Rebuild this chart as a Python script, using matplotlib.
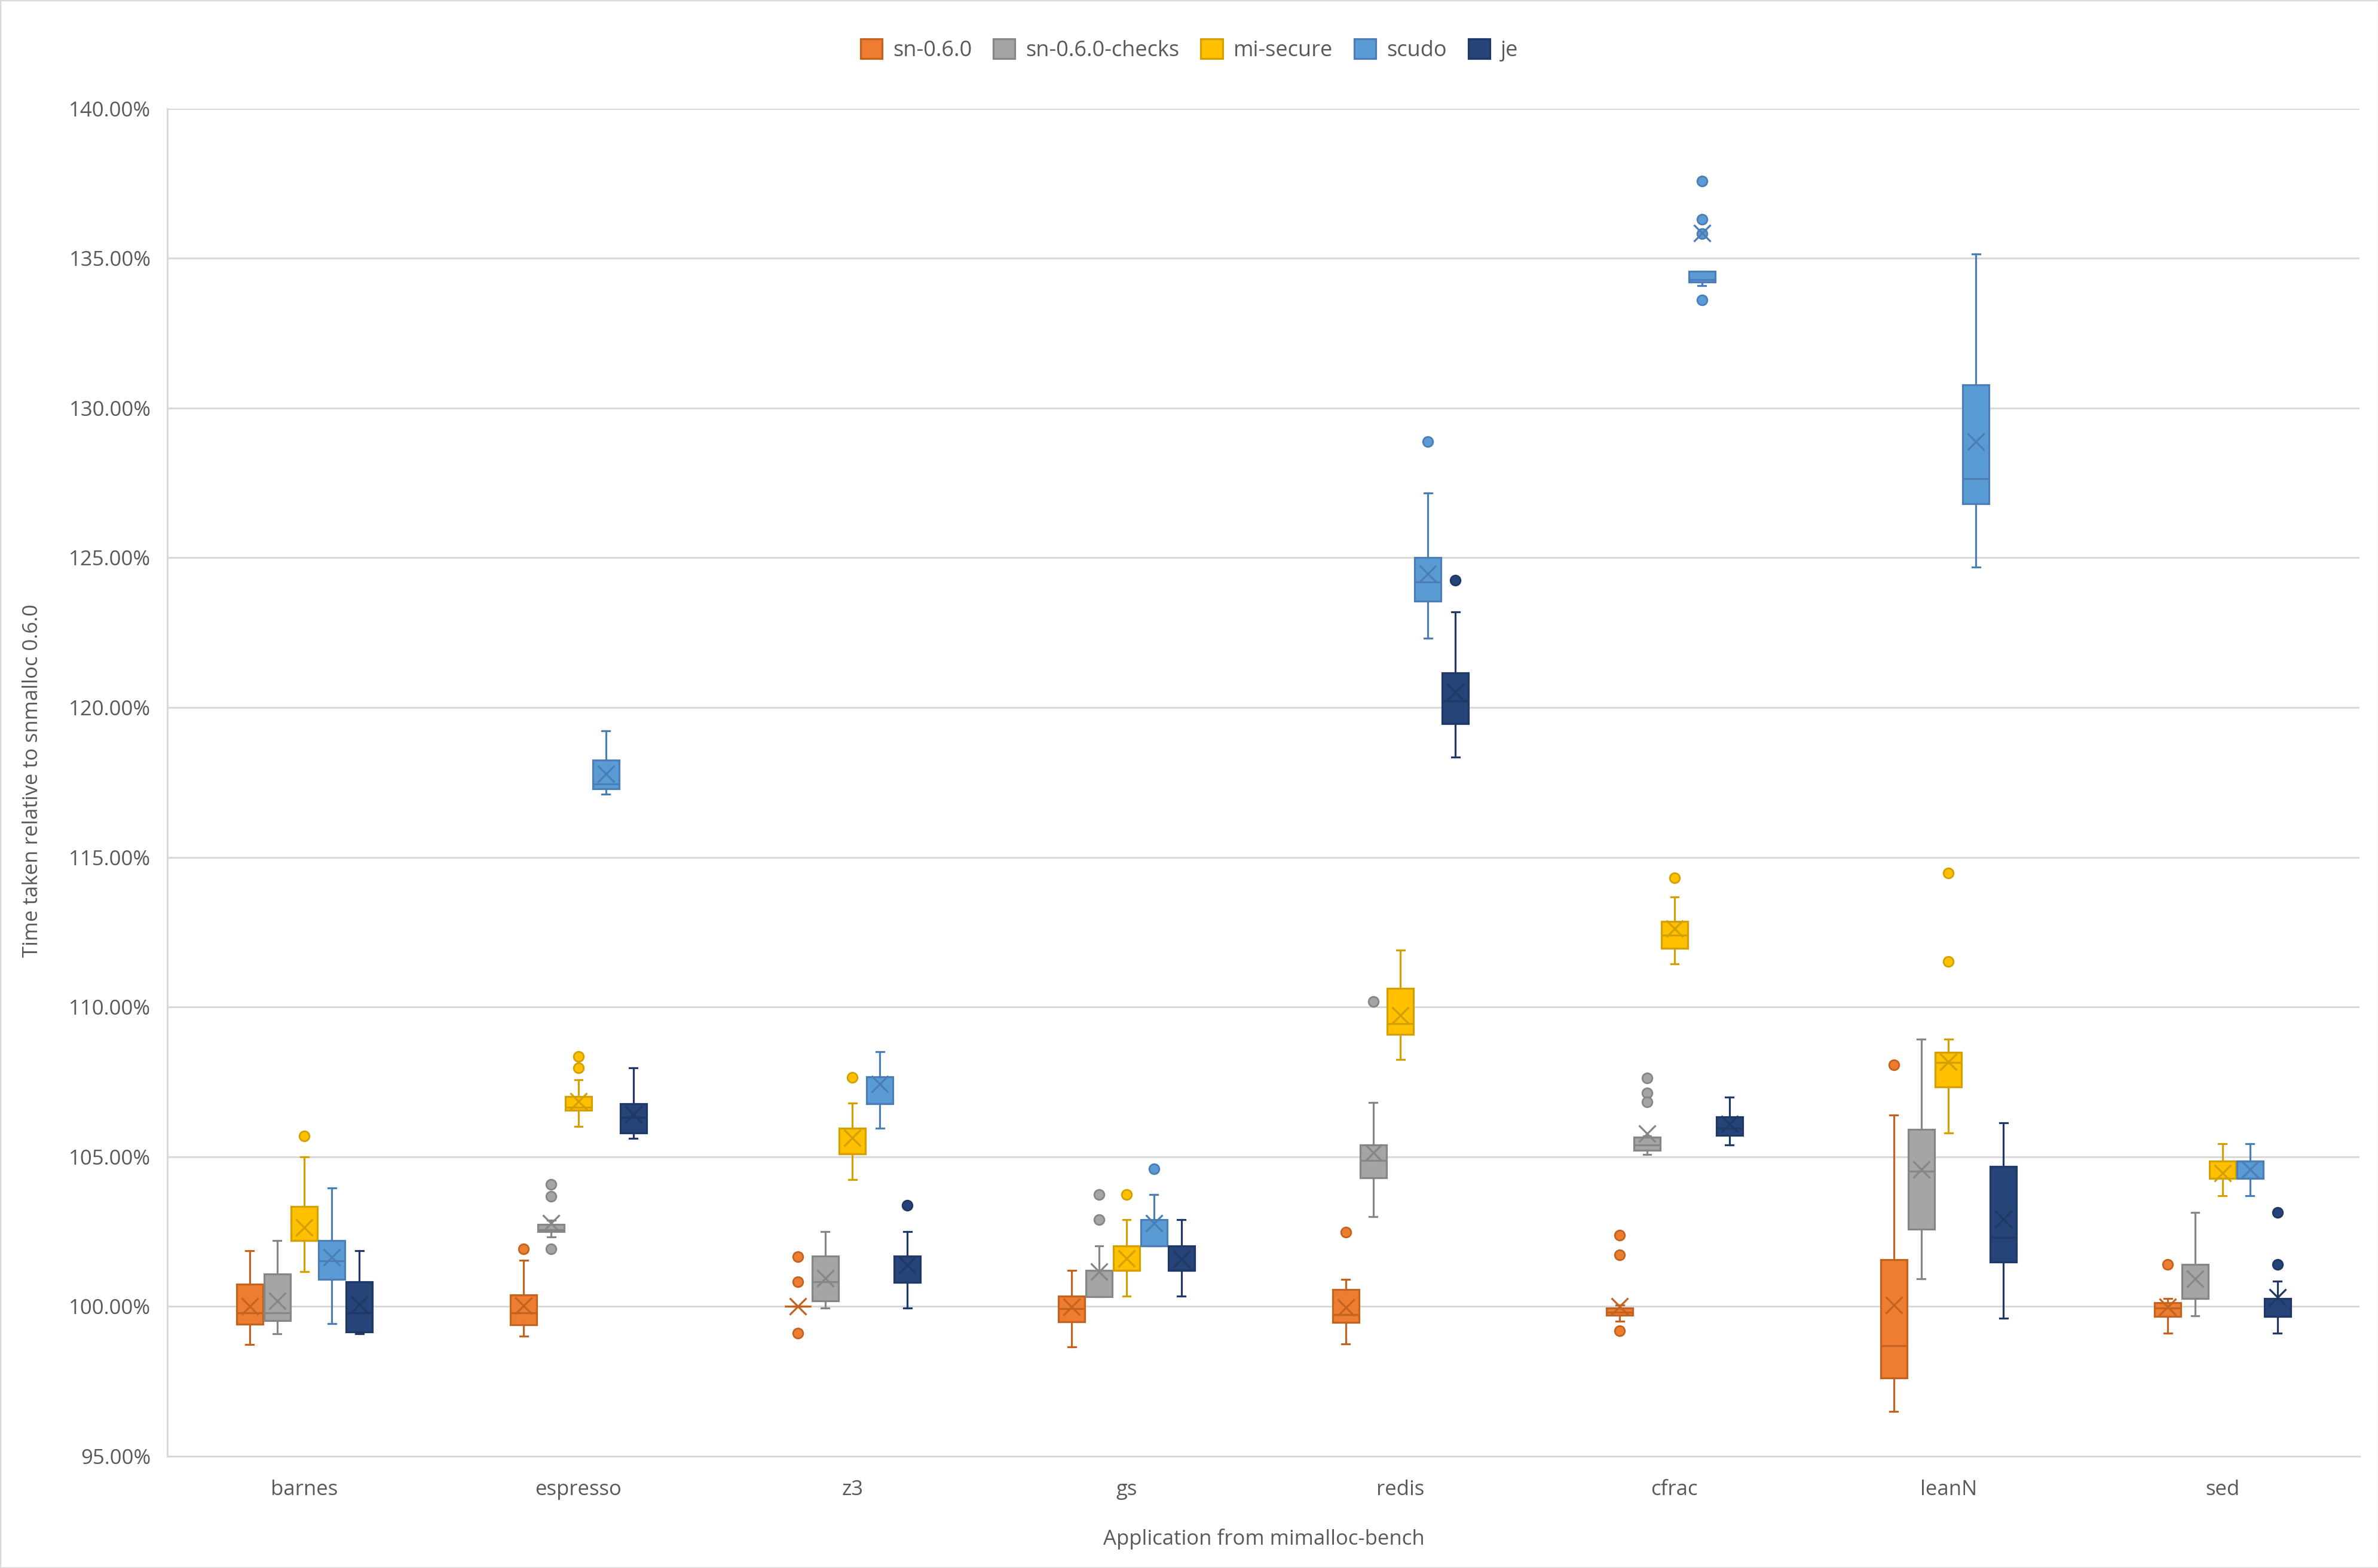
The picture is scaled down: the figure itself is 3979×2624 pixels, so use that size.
import matplotlib
matplotlib.use('Agg')
import matplotlib.pyplot as plt
from matplotlib.patches import Patch, Rectangle
from matplotlib.ticker import FuncFormatter

plt.rcParams['font.family'] = ['Open Sans', 'DejaVu Sans']

# benchmarks (x axis)
apps = ['barnes', 'espresso', 'z3', 'gs', 'redis', 'cfrac', 'leanN', 'sed']
series = ['sn-0.6.0', 'sn-0.6.0-checks', 'mi-secure', 'scudo', 'je']

# per app: (whisker low, q1, median, q3, whisker high, mean) in %
sn060 = [(98.72, 99.41, 99.78, 100.74, 101.86, 100.00),
         (99.00, 99.38, 99.79, 100.39, 101.54, 100.03),
         (100.00, 100.00, 100.00, 100.00, 100.00, 100.00),
         (98.64, 99.49, 99.93, 100.34, 101.20, 99.98),
         (98.74, 99.47, 99.73, 100.57, 100.90, 99.96),
         (99.50, 99.70, 99.80, 99.95, 100.05, 100.00),
         (96.49, 97.62, 98.68, 101.57, 106.40, 100.04),
         (99.11, 99.67, 99.95, 100.13, 100.26, 99.99)]
sn060_out = [[], [101.93], [101.67, 100.82, 99.10], [], [102.48],
             [102.39, 101.73, 99.18], [108.07], [101.41]]

checks = [(99.08, 99.53, 99.78, 101.08, 102.21, 100.19),
          (102.33, 102.50, 102.57, 102.73, 102.88, 102.78),
          (99.95, 100.18, 100.83, 101.69, 102.51, 100.94),
          (100.33, 100.33, 101.20, 101.20, 102.03, 101.16),
          (103.00, 104.30, 104.87, 105.39, 106.82, 105.14),
          (105.07, 105.22, 105.40, 105.65, 105.70, 105.78),
          (100.92, 102.59, 104.52, 105.91, 108.92, 104.57),
          (99.69, 100.26, 100.26, 101.41, 103.13, 100.92)]
checks_out = [[], [104.07, 103.68, 101.93], [], [103.74, 102.89], [110.18],
              [107.62, 107.13, 106.83], [], []]

misecure = [(101.16, 102.21, 102.21, 103.34, 104.99, 102.64),
            (106.02, 106.56, 106.65, 107.00, 107.56, 106.86),
            (104.23, 105.10, 105.10, 105.95, 106.79, 105.63),
            (100.34, 101.20, 101.20, 102.03, 102.89, 101.61),
            (108.25, 109.09, 109.45, 110.62, 111.90, 109.72),
            (111.44, 111.95, 112.40, 112.86, 113.68, 112.61),
            (105.79, 107.32, 108.15, 108.48, 108.92, 108.17),
            (103.70, 104.28, 104.28, 104.86, 105.44, 104.46)]
misecure_out = [[105.69], [108.34, 107.96], [107.64], [103.74], [],
                [114.31], [114.48, 111.51], []]

scudo = [(99.42, 100.90, 101.52, 102.21, 103.95, 101.64),
         (117.10, 117.28, 117.44, 118.24, 119.23, 117.78),
         (105.95, 106.78, 106.78, 107.66, 108.51, 107.43),
         (102.03, 102.03, 102.03, 102.89, 103.74, 102.78),
         (122.32, 123.55, 124.19, 125.00, 127.17, 124.46),
         (134.08, 134.20, 134.28, 134.56, 134.56, 135.85),
         (124.68, 126.80, 127.64, 130.78, 135.14, 128.87),
         (103.70, 104.28, 104.28, 104.86, 105.44, 104.58)]
scudo_out = [[], [], [], [104.59], [128.87],
             [137.57, 136.30, 135.82, 133.60], [], []]

je = [(99.08, 99.15, 99.78, 100.82, 101.86, 100.06),
      (105.62, 105.79, 106.31, 106.77, 107.96, 106.42),
      (99.95, 100.81, 100.81, 101.69, 102.51, 101.39),
      (100.34, 101.20, 101.20, 102.03, 102.89, 101.59),
      (118.35, 119.46, 120.22, 121.16, 123.20, 120.51),
      (105.40, 105.71, 105.95, 106.34, 106.98, 106.09),
      (99.60, 101.48, 102.31, 104.68, 106.14, 102.92),
      (99.11, 99.67, 99.67, 100.27, 100.84, 100.31)]
je_out = [[], [], [103.37], [], [124.25], [], [], [103.13, 101.41]]

fills = ['#ED7D31', '#A5A5A5', '#FFC000', '#5B9BD5', '#264478']
edges = ['#C4621F', '#868686', '#D4A000', '#4A7EB5', '#1F3864']

all_data = [(sn060, sn060_out), (checks, checks_out), (misecure, misecure_out),
            (scudo, scudo_out), (je, je_out)]

fig = plt.figure(figsize=(39.8, 26.24), dpi=100)
ax = fig.add_axes([0.0704, 0.0713, 0.9216, 0.8595])

bw = 0.096
for k, (vals, outs) in enumerate(all_data):
    stats = []
    for lo, q1, med, q3, hi, mean in vals:
        stats.append(dict(whislo=lo, q1=q1, med=med, q3=q3, whishi=hi, mean=mean, fliers=[]))
    for st, fl in zip(stats, outs):
        st['fliers'] = fl
    pos = [i + (k - 2) * 0.1 for i in range(len(apps))]
    ec = edges[k]
    ax.bxp(stats, positions=pos, widths=bw, capwidths=0.028,
           patch_artist=True, showmeans=True, manage_ticks=False,
           boxprops=dict(facecolor=fills[k], edgecolor=ec, linewidth=2.3),
           medianprops=dict(color=ec, linewidth=2.3),
           whiskerprops=dict(color=ec, linewidth=2.3),
           capprops=dict(color=ec, linewidth=2.3),
           flierprops=dict(marker='o', markerfacecolor=fills[k], markeredgecolor=ec,
                           markersize=12, markeredgewidth=2),
           meanprops=dict(marker='x', markeredgecolor=ec, markersize=20, markeredgewidth=2.3),
           zorder=3)

ax.set_xlim(-0.5, len(apps) - 0.5)
ax.set_ylim(95, 140)
ax.set_yticks(range(95, 141, 5))
ax.yaxis.set_major_formatter(FuncFormatter(lambda v, p: '{:.2f}%'.format(v)))
ax.set_xticks(range(len(apps)))
ax.set_xticklabels(apps)
ax.grid(axis='y', color='#D9D9D9', linewidth=2.2, zorder=0)
ax.set_axisbelow(True)
for s in ['top', 'right']:
    ax.spines[s].set_visible(False)
ax.spines['left'].set_color('#D9D9D9')
ax.spines['left'].set_linewidth(2.2)
ax.spines['bottom'].set_color('#D9D9D9')
ax.spines['bottom'].set_linewidth(2.2)
ax.tick_params(axis='both', length=0, labelsize=25, colors='#595959')
ax.tick_params(axis='y', pad=20)
ax.tick_params(axis='x', pad=28)

fig.text(0.0135, 0.502, 'Time taken relative to snmalloc 0.6.0', rotation=90,
         ha='center', va='center', fontsize=25, color='#595959')
fig.text(0.5314, 0.0185, 'Application from mimalloc-bench',
         ha='center', va='center', fontsize=25, color='#595959')

handles = [Patch(facecolor=f, edgecolor=e, linewidth=2.3) for f, e in zip(fills, edges)]
fig.legend(handles, series, loc='center', bbox_to_anchor=(0.5, 0.968), ncol=5,
           frameon=False, fontsize=26, labelcolor='#595959', handlelength=1.0,
           handleheight=1.0, handletextpad=0.5, columnspacing=1.0)

fig.patches.append(Rectangle((0, 0), 1, 1, transform=fig.transFigure, fill=False,
                             edgecolor='#D9D9D9', linewidth=2.5))

plt.savefig('out.png', dpi=100)
